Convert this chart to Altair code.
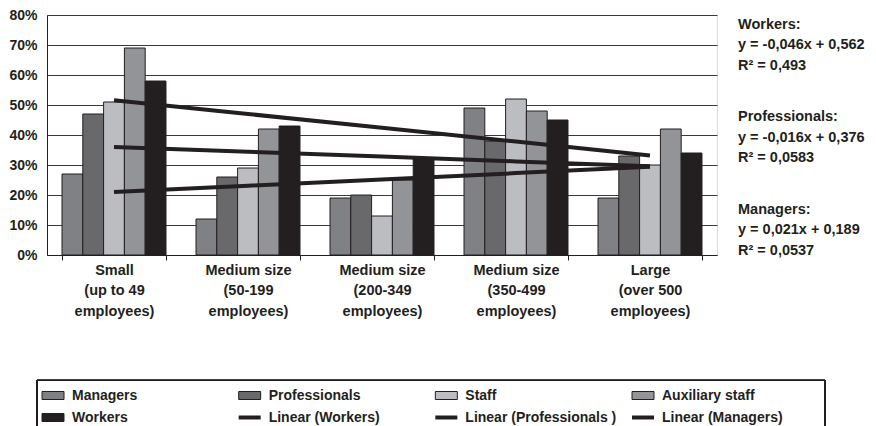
import altair as alt
import pandas as pd

# ---------------- data ----------------
categories = [
    "Small|(up to 49|employees)",
    "Medium size|(50-199|employees)",
    "Medium size|(200-349|employees)",
    "Medium size|(350-499|employees)",
    "Large|(over 500|employees)",
]
series = ["Managers", "Professionals", "Staff", "Auxiliary staff", "Workers"]
managers = [27, 12, 19, 49, 19]
professionals = [47, 26, 20, 38, 33]
staff = [51, 29, 13, 52, 30]
auxiliary = [69, 42, 25, 48, 42]
workers = [58, 43, 32, 45, 34]

trend_names = ["Linear (Workers)", "Linear (Professionals )", "Linear (Managers)"]
trend_workers = [51.6, 47.0, 42.4, 37.8, 33.2]
trend_professionals = [36.0, 34.4, 32.8, 31.2, 29.6]
trend_managers = [21.0, 23.1, 25.2, 27.3, 29.4]

equation_groups = [
    "Workers:|y = -0,046x + 0,562|R² = 0,493",
    "Professionals:|y = -0,016x + 0,376|R² = 0,0583",
    "Managers:|y = 0,021x + 0,189|R² = 0,0537",
]
y_ticks = [0, 10, 20, 30, 40, 50, 60, 70, 80]

# ---------------- styles ----------------
series_colors = ["#808184", "#69696c", "#bcbdc0", "#939497", "#231f20"]
dark = "#231f20"
FONT = "Liberation Sans"

# ---------------- tables ----------------
bar_values = [managers, professionals, staff, auxiliary, workers]
bars_df = pd.DataFrame(
    [
        {"category": c, "series": s, "value": vals[i]}
        for s, vals in zip(series, bar_values)
        for i, c in enumerate(categories)
    ]
)
trend_values = [trend_workers, trend_professionals, trend_managers]
trend_df = pd.DataFrame(
    [
        {"category": c, "trend": t, "value": vals[i]}
        for t, vals in zip(trend_names, trend_values)
        for i, c in enumerate(categories)
    ]
)
eq_df = pd.DataFrame({"group": list(range(len(equation_groups))), "txt": equation_groups})

legend_names = series + trend_names
legend_kind = ["bar"] * len(series) + ["line"] * len(trend_names)
legend_color = series_colors + [dark] * len(trend_names)
legend_df = pd.DataFrame(
    {
        "name": legend_names,
        "kind": legend_kind,
        "color": legend_color,
        "col": [i % 4 for i in range(len(legend_names))],
        "row": [i // 4 for i in range(len(legend_names))],
    }
)

# ---------------- main chart ----------------
x_axis = alt.Axis(
    title=None,
    labelAngle=0,
    labelExpr="split(datum.label, '|')",
    tickBand="extent",
    tickSize=5,
    tickColor=dark,
    labelPadding=3,
    labelLineHeight=20.5,
    labelFontSize=14.5,
    labelFont=FONT,
    labelFontWeight="bold",
    labelColor=dark,
    grid=False,
    domainColor=dark,
)
y_axis = alt.Axis(
    title=None,
    values=y_ticks,
    tickCount=9,
    labelExpr="datum.value + '%'",
    ticks=False,
    labelPadding=10,
    labelOverlap=False,
    labelFontSize=14,
    labelFont=FONT,
    labelFontWeight="bold",
    labelColor=dark,
    grid=True,
    gridColor="#3a3a3a",
    gridWidth=1,
    domainColor=dark,
)
x_scale = alt.Scale(paddingInner=0.224, paddingOuter=0.112)
y_scale = alt.Scale(domain=[0, 80], nice=False)

bars = alt.Chart(bars_df).mark_bar(stroke=dark, strokeWidth=1).encode(
    x=alt.X("category:N", sort=categories, scale=x_scale, axis=x_axis),
    xOffset=alt.XOffset("series:N", sort=series, scale=alt.Scale(paddingInner=0, paddingOuter=0)),
    y=alt.Y("value:Q", scale=y_scale, axis=y_axis),
    color=alt.Color("series:N", sort=series, scale=alt.Scale(domain=series, range=series_colors), legend=None),
)

lines = alt.Chart(trend_df).mark_line(color=dark, strokeWidth=4).encode(
    x=alt.X("category:N", sort=categories, scale=x_scale, axis=x_axis),
    y=alt.Y("value:Q", scale=y_scale, axis=y_axis),
    detail="trend:N",
)

main = alt.layer(bars, lines)

# ---------------- equations on the right ----------------
equations = (
    alt.Chart(eq_df)
    .transform_calculate(lines="split(datum.txt, '|')")
    .mark_text(
        align="left",
        baseline="middle",
        lineHeight=20.5,
        fontSize=14.5,
        font=FONT,
        fontWeight="bold",
        color=dark,
    )
    .encode(
        x=alt.value(691),
        y=alt.Y("group:Q", scale=alt.Scale(domain=[0, 2], range=[9.5, 194.5]), axis=None),
        text="lines:N",
    )
)

# ---------------- custom legend ----------------
leg_x = alt.X("col:Q", scale=alt.Scale(domain=[0, 3], range=[6, 596]), axis=None)
leg_y = alt.Y("row:Q", scale=alt.Scale(domain=[0, 1], range=[380.5, 402.5]), axis=None)

legend_box = alt.Chart(legend_df).mark_rect(
    fillOpacity=0, stroke=dark, strokeWidth=1
).encode(
    x=alt.value(-10), x2=alt.value(778), y=alt.value(365.3), y2=alt.value(450)
)
leg_bars = alt.Chart(legend_df).transform_filter("datum.kind == 'bar'").mark_rect(
    width=22, height=8, stroke=dark, strokeWidth=1
).encode(x=leg_x, y=leg_y, color=alt.Color("color:N", scale=None))
leg_lines = alt.Chart(legend_df).transform_filter("datum.kind == 'line'").mark_rect(
    width=22, height=4
).encode(x=leg_x, y=leg_y, color=alt.Color("color:N", scale=None))
leg_text = alt.Chart(legend_df).mark_text(
    align="left", baseline="middle", dx=19, fontSize=14, font=FONT, fontWeight="bold", color=dark
).encode(x=leg_x, y=leg_y, text="name:N")

legend = alt.layer(legend_box, leg_bars, leg_lines, leg_text)

chart = (
    alt.layer(main, equations, legend)
    .resolve_scale(x="independent", y="independent", color="independent")
    .properties(width=670, height=240, padding={"left": 0, "top": 0, "right": 0, "bottom": 0})
    .configure_view(stroke=dark, strokeWidth=1)
    .configure(background="white")
)

chart.save("out.html", embed_options={"renderer": "svg", "actions": False})
